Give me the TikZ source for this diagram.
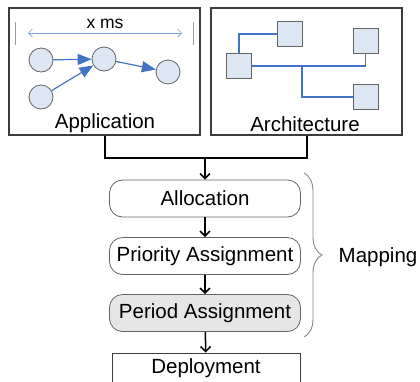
\documentclass[tikz,border=0pt]{standalone}
\usepackage{fontspec}
\setmainfont{Liberation Sans}
\usetikzlibrary{arrows.meta,decorations.pathreplacing}
\definecolor{taskblue}{RGB}{68,114,196}
\definecolor{dimblue}{RGB}{125,160,212}
\definecolor{taskfill}{RGB}{221,230,243}
\definecolor{framegray}{RGB}{60,60,60}
\definecolor{edgegray}{RGB}{100,100,100}
\definecolor{bracegray}{RGB}{135,135,135}
\definecolor{stepfill}{RGB}{230,230,230}

\begin{document}
\begin{tikzpicture}[x=1pt,y=-1pt,
  frame/.style={draw=framegray,line width=1.1pt,minimum width=191pt,minimum height=127pt,inner sep=0pt},
  task/.style={circle,draw=edgegray,line width=0.8pt,fill=taskfill,minimum size=24pt,inner sep=0pt},
  proc/.style={draw=edgegray,line width=0.8pt,fill=taskfill,minimum size=25pt,inner sep=0pt},
  flow/.style={taskblue,line width=1.2pt,-{Triangle[length=14pt,width=11pt]}},
  link/.style={taskblue,line width=1.2pt},
  stepbox/.style={draw=edgegray,line width=0.8pt,rounded corners=13pt,fill=white,minimum width=191pt,minimum height=37pt,inner sep=0pt},
  stepflow/.style={line width=1.5pt,-{Straight Barb[length=5pt,width=10pt]}},
  bigtext/.style={font=\fontsize{20.5}{24}\selectfont}]
\useasboundingbox (0,0) rectangle (420,381);
% Draw the two input boxes
\node[frame] (app) at (104.5,71.5) {};
\node[frame] (arch) at (306.5,71.5) {};
\node[bigtext] (applabel) at (105,123) {Application};
\node[bigtext] (archlabel) at (305,124) {Architecture};
% Draw the time span
\coordinate (tickl) at (15,22);
\coordinate (tickr) at (193,22);
\coordinate (spanl) at (28,33);
\coordinate (spanr) at (182,33);
\draw[dimblue,line width=0.8pt] (tickl) -- ++(0,23);
\draw[dimblue,line width=0.8pt] (tickr) -- ++(0,23);
\draw[dimblue,line width=0.7pt,{Straight Barb[length=4pt,width=8pt]}-{Straight Barb[length=4pt,width=8pt]}] (spanl) -- (spanr);
\node[font=\fontsize{17.5}{21}\selectfont] (span) at (105,24) {x ms};
% Draw the task graph
\node[task] (t1) at (41,60) {};
\node[task] (t2) at (104,59) {};
\node[task] (t3) at (168,72) {};
\node[task] (t4) at (41,97) {};
\draw[flow] (t1) -- (t2);
\draw[flow] (t4) -- (t2);
\draw[flow] (t2) -- (t3);
% Draw the platform
\node[proc] (p1) at (290,34) {};
\node[proc] (p2) at (239,66) {};
\node[proc] (p3) at (365.5,40.5) {};
\node[proc] (p4) at (365.5,97) {};
\coordinate (split) at (302,66);
\draw[link] (p1.west) -| (p2.north);
\draw[link] (p2.east) -| (p3.south);
\draw[link] (split) |- (p4.west);
% Draw the mapping steps
\coordinate (join) at (205,158);
\draw[line width=2pt] (app.south) |- (join);
\draw[line width=2pt] (arch.south) |- (join);
\node[stepbox,bigtext] (alloc) at (205,198.5) {Allocation};
\node[stepbox,bigtext] (prio) at (205,256) {Priority Assignment};
\node[stepbox,bigtext,fill=stepfill] (period) at (205,313) {Period Assignment};
\node[draw=framegray,line width=0.9pt,minimum width=188pt,minimum height=30pt,inner sep=0pt,bigtext] (deploy) at (206,368) {Deployment};
\draw[stepflow] (join) -- (alloc);
\draw[stepflow] (alloc) -- (prio);
\draw[stepflow] (prio) -- (period);
\draw[stepflow] (period) -- (deploy);
% Draw the brace
\coordinate (bracetop) at (304,173);
\coordinate (bracebot) at (304,337);
\draw[bracegray,line width=0.9pt,decorate,decoration={brace,amplitude=18pt}] (bracetop) -- (bracebot);
\node[bigtext] (maplabel) at (378,257) {Mapping};
\end{tikzpicture}
\end{document}
